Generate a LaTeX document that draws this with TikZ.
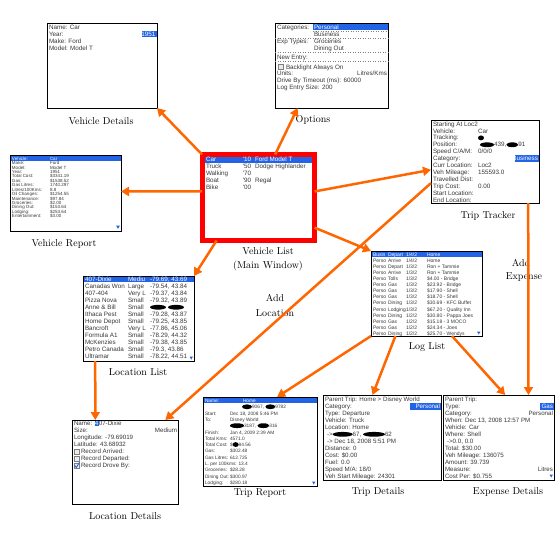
\documentclass[tikz,border=0pt]{standalone}
\usepackage{fontspec}
\newfontfamily\scrfont{Liberation Sans}
\usetikzlibrary{arrows.meta,calc}
\definecolor{arr}{RGB}{255,102,0}
\definecolor{hl}{RGB}{35,100,230}
\definecolor{stxt}{RGB}{55,55,55}
\newcommand\blob[1]{\tikz[baseline=-2.1pt]\fill[black] (0pt,0pt) ellipse [x radius=#1pt, y radius=2.4pt];}
\newcommand\sz[1]{\fontsize{#1}{#1}\selectfont}
\tikzset{
  scr/.style={font=\scrfont\sz{6.3}, text=stxt, anchor=mid west, inner sep=0pt, outer sep=0pt},
  scrR/.style={scr, anchor=mid east},
  wt/.style={text=white},
  box/.style={draw=black, line width=1pt, inner sep=0pt, outer sep=0pt, anchor=north west},
  lab/.style={font=\sz{10}, inner sep=0pt, outer sep=0pt},
  link/.style={draw=arr, line width=2.5pt, -{Triangle[length=8pt,width=9pt]}},
  sep/.style={dotted, draw=gray, line width=0.5pt},
  chk/.style={draw=gray, line width=0.5pt, fill=gray!15},
}
\begin{document}
\begin{tikzpicture}[x=1pt,y=-1pt]
\useasboundingbox (0,0) rectangle (559,552);

% ---------------- Vehicle Details
\node[box, minimum width=110pt, minimum height=85pt] (vd) at (47,23) {};
\fill[hl] (142,30.8) rectangle (156.5,37.2);
\foreach [count=\i] \t in {Name: Car, Year:, Make: Ford, Model: Model T}
  \node[scr] (vd-\i) at (49,{20+7*\i}) {\t};
\node[scrR, wt] (vd-yr) at (155.5,34) {1951};
\node[lab] (vdL) at (101,121) {Vehicle Details};

% ---------------- Options
\node[box, minimum width=113pt, minimum height=85pt] (op) at (275,23) {};
\fill[hl] (313,23.5) rectangle (387.5,30.3);
\draw[sep] (313,30.8) -- (388,30.8);
\draw[sep] (275,37.8) -- (388,37.8);
\draw[sep] (275,52.2) -- (388,52.2);
\draw[sep] (275,61.5) -- (388,61.5);
\node[scr] (op-1) at (277,27) {Categories:};
\node[scr, wt] (op-2) at (314,27) {Personal};
\node[scr] (op-3) at (314,34) {Business};
\node[scr] (op-4) at (277,41.2) {Exp Types:};
\node[scr] (op-5) at (314,41.2) {Groceries};
\node[scr] (op-6) at (314,48) {Dining Out};
\node[scr] (op-7) at (277,57.3) {New Entry:};
\draw[chk] (278,64.5) rectangle (283,69.5);
\node[scr] (op-8) at (286,67) {Backlight Always On};
\node[scr] (op-9) at (277,73.5) {Units:};
\node[scrR] (op-10) at (387,73.5) {Litres/Kms};
\node[scr] (op-11) at (277,80.2) {Drive By Timeout (ms): 60000};
\node[scr] (op-12) at (277,87) {Log Entry Size: 200};
\node[lab] (opL) at (313,120) {Options};

% ---------------- Vehicle List (main window)
\node[draw=red, line width=5pt, inner sep=0pt, outer sep=0pt, anchor=north west,
      minimum width=112.5pt, minimum height=86pt] (vl) at (202,154.5) {};
\fill[hl] (204.5,157) rectangle (312,163);
\node[scr, wt] (vl-1a) at (206,159.5) {Car};
\node[scr, wt] (vl-1b) at (243,159.5) {'10};
\node[scr, wt] (vl-1c) at (255,159.5) {Ford Model T};
\foreach [count=\i] \a/\b/\c in {Truck/'50/Dodge Highlander, Walking/'70/{}, Boat/'90/Regal, Bike/'00/{}} {
  \node[scr] (vl-a\i) at (206,{159.5+6.85*\i}) {\a};
  \node[scr] (vl-b\i) at (243,{159.5+6.85*\i}) {\b};
  \node[scr] (vl-c\i) at (255,{159.5+6.85*\i}) {\c};
}
\node[lab] (vlL1) at (268,251) {Vehicle List};
\node[lab] (vlL2) at (268,266) {(Main Window)};

% ---------------- Vehicle Report
\node[box, minimum width=111pt, minimum height=76pt] (vr) at (10,155) {};
\fill[hl] (10.5,155.5) rectangle (120.5,160.6);
\node[scr, wt, font=\scrfont\sz{4.5}] (vr-a0) at (12,158.1) {Vehicle:};
\node[scr, wt, font=\scrfont\sz{4.5}] (vr-b0) at (50,158.1) {Car};
\foreach [count=\i] \a/\b in {Make:/Ford, Model:/Model T, Year:/1951, Total Cost:/\$3341.19,
   Gas:/\$1538.52, Gas Litres:/1740.297, {Litres/100Kms:}/8.8, Oil Changes:/\$1254.55,
   Maintenance:/\$97.84, Groceries:/\$2.00, Dining Out:/\$153.64, Lodging:/\$253.64,
   Entertainment:/\$3.00} {
  \node[scr, font=\scrfont\sz{4.5}] (vr-a\i) at (12,{158.1+4.42*\i}) {\a};
  \node[scr, font=\scrfont\sz{4.5}] (vr-b\i) at (50,{158.1+4.42*\i}) {\b};
}
\fill[hl] (116,225.5) -- (120,225.5) -- (118,228.8) -- cycle;
\node[lab] (vrL) at (64,244) {Vehicle Report};

% ---------------- Trip Tracker
\node[box, minimum width=108pt, minimum height=83pt] (tt) at (431,120) {};
\fill[hl] (515,155.2) rectangle (538.5,161.8);
\foreach [count=\i] \a/\b in {Starting At Loc2/{}, Vehicle:/Car, Tracking:/{\blob{3}},
   Position:/{\hspace{2pt}\blob{7}439,\blob{6}91}, {Speed C/A/M:}/{0/0/0}, Category:/{},
   Curr Location:/Loc2, Veh Mileage:/155593.0, Travelled Dist:/{}, Trip Cost:/0.00,
   Start Location:/{}, End Location:/{}} {
  \node[scr] (tt-a\i) at (433,{124+6.9*(\i-1)}) {\a};
  \node[scr] (tt-b\i) at (478,{124+6.9*(\i-1)}) {\b};
}
\node[scrR, wt] (tt-cat) at (538,158.5) {Business};
\node[lab] (ttL) at (488,216) {Trip Tracker};

% ---------------- Location List
\node[box, minimum width=111pt, minimum height=85pt] (ll) at (83,276) {};
\fill[hl] (83.5,276.5) rectangle (193.5,282.3);
\node[scr, wt] (ll-a0) at (85,279.4) {407-Dixie};
\node[scr, wt] (ll-b0) at (128,279.4) {Mediu};
\node[scr, wt] (ll-c0) at (150,279.4) {-79.69, 43.69};
\foreach [count=\i] \a/\b/\c in {Canadas Won/Large/{-79.54, 43.84}, 407-404/Very L/{-79.37, 43.84},
   Pizza Nova/Small/{-79.32, 43.89}, Anne \& Bill/Small/{\blob{8}\hspace{2pt}\blob{8}},
   Ithaca Pest/Small/{-79.28, 43.87}, Home Depot/Small/{-79.25, 43.85},
   Bancroft/Very L/{-77.86, 45.06}, Formula A1/Small/{-78.29, 44.32},
   McKenzies/Small/{-79.38, 43.85}, Petro Canada/Small/{-79.3, 43.86},
   Ultramar/Small/{-78.22, 44.51}} {
  \node[scr] (ll-a\i) at (85,{279.4+6.95*\i}) {\a};
  \node[scr] (ll-b\i) at (128,{279.4+6.95*\i}) {\b};
  \node[scr] (ll-c\i) at (150,{279.4+6.95*\i}) {\c};
}
\fill[hl] (189.5,356.5) -- (193,356.5) -- (191.25,359.5) -- cycle;
\node[lab] (llL) at (138,372) {Location List};

% ---------------- Log List
\node[box, minimum width=111pt, minimum height=85pt] (lg) at (371,251) {};
\fill[hl] (371.5,251.5) rectangle (481.5,257.3);
\node[scr, wt, font=\scrfont\sz{5}] (lg-a0) at (373,254.4) {Busin};
\node[scr, wt, font=\scrfont\sz{5}] (lg-b0) at (388,254.4) {Depart};
\node[scr, wt, font=\scrfont\sz{5}] (lg-c0) at (406,254.4) {1/4/2};
\node[scr, wt, font=\scrfont\sz{5}] (lg-d0) at (427,254.4) {Home};
\foreach [count=\i] \a/\b/\c/\d in {Perso/Arrive/{1/4/2}/Home, Perso/Depart/{1/3/2}/{Ron + Tammie},
   Perso/Arrive/{1/3/2}/{Ron + Tammie}, Perso/Tolls/{1/3/2}/{\$4.00 - Bridge},
   Perso/Gas/{1/3/2}/{\$23.92 - Bridge}, Perso/Gas/{1/3/2}/{\$17.90 - Shell},
   Perso/Gas/{1/3/2}/{\$18.70 - Shell}, Perso/Dining/{1/3/2}/{\$30.69 - KFC Buffet},
   Perso/Lodging/{1/3/2}/{\$67.20 - Quality Inn}, Perso/Dining/{1/2/2}/{\$30.80 - Pappa Joes},
   Perso/Gas/{1/2/2}/{\$15.18 - 3 MOCO}, Perso/Gas/{1/2/2}/{\$24.34 - Joes},
   Perso/Dining/{1/2/2}/{\$25.70 - Wendys}} {
  \node[scr, font=\scrfont\sz{5}] (lg-a\i) at (373,{254.4+6.05*\i}) {\a};
  \node[scr, font=\scrfont\sz{5}] (lg-b\i) at (388,{254.4+6.05*\i}) {\b};
  \node[scr, font=\scrfont\sz{5}] (lg-c\i) at (406,{254.4+6.05*\i}) {\c};
  \node[scr, font=\scrfont\sz{5}] (lg-d\i) at (427,{254.4+6.05*\i}) {\d};
}
\fill[hl] (477,331.5) -- (480.5,331.5) -- (478.75,334.5) -- cycle;
\node[lab] (lgL) at (427,347) {Log List};

% ---------------- Location Details
\node[box, minimum width=106pt, minimum height=84pt] (ld) at (72,420) {};
\node[scr, font=\scrfont\sz{6.2}] (ld-1) at (74,423.5) {Name: {\setlength{\fboxsep}{0.4pt}\colorbox{hl}{\textcolor{white}{4}}}07-Dixie};
\node[scr, font=\scrfont\sz{6.2}] (ld-2) at (74,430.5) {Size:};
\node[scrR, font=\scrfont\sz{6.2}] (ld-2r) at (177,430.5) {Medium};
\node[scr, font=\scrfont\sz{6.2}] (ld-3) at (74,437.5) {Longitude: -79.69019};
\node[scr, font=\scrfont\sz{6.2}] (ld-4) at (74,444.5) {Latitude: 43.68932};
\foreach [count=\i] \t in {Record Arrived:, Record Departed:, Record Drove By:} {
  \draw[chk] (74,{442.3+7*\i}) rectangle (79,{447.3+7*\i});
  \node[scr, font=\scrfont\sz{6.2}] (ld-c\i) at (81,{444.5+7*\i}) {\t};
}
\draw[hl, line width=0.9pt] (74.6,465.3) -- (76.3,467.5) -- (79.6,462.2);
\node[lab] (ldL) at (125,516) {Location Details};

% ---------------- Trip Report
\node[box, minimum width=114pt, minimum height=89pt] (tr) at (203,397) {};
\fill[hl] (203.5,397.5) rectangle (316.5,403.3);
\node[scr, wt, font=\scrfont\sz{4.8}] (tr-a0) at (205,400.4) {Name:};
\node[scr, wt, font=\scrfont\sz{4.8}] (tr-b0) at (243,400.4) {Home};
\foreach [count=\i] \a/\b in {{}/{\hspace{12pt}\blob{5}9067, \blob{5}9782},
   Start:/{Dec 18, 2008 5:46 PM}, To:/Disney World, {}/{\blob{7}3187, \blob{6}316},
   Finish:/{Jan 4, 2009 2:39 AM}, Total Kms:/4571.0, Total Cost:/{\$\blob{3}84.56},
   Gas:/\$302.48, Gas Litres:/612.725, {L. per 100kms: 13.4}/{}, Groceries:/\$28.28,
   Dining Out:/\$300.97, Lodging:/\$280.18} {
  \node[scr, font=\scrfont\sz{4.8}] (tr-a\i) at (205,{400.4+6.3*\i}) {\a};
  \node[scr, font=\scrfont\sz{4.8}] (tr-b\i) at (230,{400.4+6.3*\i}) {\b};
}
\fill[hl] (312,481.5) -- (315.5,481.5) -- (313.75,484.5) -- cycle;
\node[lab] (trL) at (260,493) {Trip Report};

% ---------------- Trip Details
\node[box, minimum width=118pt, minimum height=85pt] (td) at (323,395) {};
\fill[hl] (410,403.2) rectangle (440.5,409.7);
\foreach [count=\i] \t in {Parent Trip: Home > Disney World, Category:, Type: Departure,
   Vehicle: Truck, Location: Home, {\hspace{2pt}->\blob{10}67, \blob{11}62},
   {\hspace{2pt}-> Dec 18, 2008 5:51 PM}, Distance: 0, Cost: \$0.00, Fuel: 0.0,
   Speed M/A: 18/0, Veh Start Mileage: 24301}
  \node[scr, font=\scrfont\sz{6.2}] (td-\i) at (325,{399.5+6.95*(\i-1)}) {\t};
\node[scrR, wt, font=\scrfont\sz{6.2}] (td-cat) at (440,406.45) {Personal};
\node[lab] (tdL) at (378,492) {Trip Details};

% ---------------- Expense Details
\node[box, minimum width=111pt, minimum height=85pt] (ed) at (443,395) {};
\fill[hl] (540,403.2) rectangle (553.5,409.7);
\foreach [count=\i] \t in {Parent Trip:, Type:, Category:, {When: Dec 13, 2008 12:57 PM},
   Vehicle: Car, Where: Shell, {\hspace{2pt}->0.0, 0.0}, Total: \$30.00,
   Veh Mileage: 136075, Amount: 39.739, Measure:, Cost Per: \$0.755}
  \node[scr, font=\scrfont\sz{6.2}] (ed-\i) at (445,{399.5+6.95*(\i-1)}) {\t};
\node[scrR, wt, font=\scrfont\sz{6.2}] (ed-gas) at (553,406.45) {Gas};
\node[scrR, font=\scrfont\sz{6.2}] (ed-cat) at (553,413.4) {Personal};
\node[scrR, font=\scrfont\sz{6.2}] (ed-mea) at (553,469) {Litres};
\fill[hl] (549.5,474.5) -- (553,474.5) -- (551.25,477.5) -- cycle;
\node[lab] (edL) at (508,492) {Expense Details};

% ---------------- free labels
\node[lab] (addL1) at (275,298) {Add};
\node[lab] (addL2) at (275,313) {Location};
\node[lab] (addE1) at (521,263) {Add};
\node[lab] (addE2) at (524,277) {Expense};

% ---------------- connectors
\draw[link] (vl.north west) -- (vd.south east);
\draw[link] ($(vl.north west)!0.65!(vl.north east)$) -- ($(op.south west)!0.2!(op.south east)$);
\draw[link] ($(vl.north west)!0.43!(vl.south west)$) -- ($(vr.north east)!0.48!(vr.south east)$);
\draw[link] ($(vl.north east)!0.43!(vl.south east)$) -- ($(tt.north west)!0.6!(tt.south west)$);
\draw[link] ($(vl.north east)!0.85!(vl.south east)$) -- (lg.north west);
\draw[link] ($(vl.south west)!0.13!(vl.south east)$) -- (ll.north east);
\draw[link] ($(tt.north west)!0.76!(tt.south west)$) -- ($(ld.north west)!0.88!(ld.north east)$);
\draw[link] ($(ll.south west)!0.11!(ll.south east)$) -- ($(ld.north west)!0.22!(ld.north east)$);
\draw[link] (lg.south west) -- ($(tr.north west)!0.65!(tr.north east)$);
\draw[link] ($(lg.south west)!0.22!(lg.south east)$) -- ($(td.north west)!0.42!(td.north east)$);
\draw[link] ($(lg.south west)!0.73!(lg.south east)$) -- ($(ed.north west)!0.56!(ed.north east)$);
\draw[link] ($(tt.south west)!0.9!(tt.south east)$) -- ($(ed.north west)!0.77!(ed.north east)$);
\end{tikzpicture}
\end{document}
